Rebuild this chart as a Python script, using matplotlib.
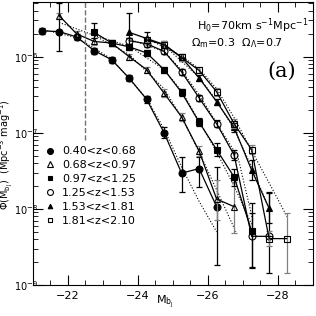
""" luminosity function plot """
import numpy as np
import matplotlib.pyplot as plt
from matplotlib.lines import Line2D

# 各红移区间的数据 (M_bJ, log10 Phi, 误差上/下 dex)
mag_1 = [-21.25, -21.75, -22.25, -22.75, -23.25, -23.75, -24.25, -24.75, -25.25, -25.75, -26.25]
logphi_1 = [-5.66, -5.67, -5.74, -5.92, -6.04, -6.28, -6.56, -7.00, -7.53, -7.47, -7.97]
up_1 = [0.04, 0.38, 0.04, 0.04, 0.04, 0.04, 0.05, 0.07, 0.21, 0.15, 0.52]
dn_1 = [0.04, 0.25, 0.04, 0.04, 0.04, 0.04, 0.05, 0.07, 0.25, 0.24, 0.77]

mag_2 = [-21.75, -22.25, -22.75, -23.25, -23.75, -24.25, -24.75, -25.25, -25.75, -26.25, -26.75]
logphi_2 = [-5.46, -5.70, -5.80, -5.82, -6.00, -6.17, -6.48, -6.79, -7.24, -7.87, -7.97]
up_2 = [0.04, 0.04, 0.04, 0.04, 0.04, 0.04, 0.05, 0.05, 0.07, 0.25, 0.33]
dn_2 = [0.04, 0.04, 0.04, 0.04, 0.04, 0.04, 0.05, 0.05, 0.07, 0.27, 0.35]

mag_3 = [-22.75, -23.25, -23.75, -24.25, -24.75, -25.25, -25.75, -26.25, -26.75, -27.25]
logphi_3 = [-5.68, -5.82, -5.87, -5.95, -6.17, -6.47, -6.86, -7.22, -7.58, -8.29]
up_3 = [0.12, 0.04, 0.04, 0.04, 0.04, 0.04, 0.05, 0.08, 0.10, 0.37]
dn_3 = [0.08, 0.04, 0.04, 0.04, 0.04, 0.04, 0.05, 0.08, 0.12, 0.49]

mag_4 = [-23.75, -24.25, -24.75, -25.25, -25.75, -26.25, -26.75, -27.25, -27.75]
logphi_4 = [-5.79, -5.83, -5.93, -6.20, -6.54, -6.88, -7.29, -8.36, -8.36]
up_4 = [0.04, 0.04, 0.04, 0.04, 0.04, 0.05, 0.07, 0.30, 0.58]
dn_4 = [0.04, 0.04, 0.04, 0.04, 0.04, 0.05, 0.07, 0.40, 0.48]

mag_5 = [-23.75, -24.25, -24.75, -25.25, -25.75, -26.25, -26.75, -27.25, -27.75]
logphi_5 = [-5.68, -5.76, -5.84, -6.01, -6.28, -6.59, -6.93, -7.49, -7.99]
up_5 = [0.26, 0.08, 0.04, 0.04, 0.04, 0.04, 0.06, 0.13, 0.20]
dn_5 = [0.08, 0.06, 0.04, 0.04, 0.04, 0.04, 0.06, 0.13, 0.20]

mag_6 = [-24.25, -24.75, -25.25, -25.75, -26.25, -26.75, -27.25, -27.75, -28.25]
logphi_6 = [-5.78, -5.84, -6.01, -6.18, -6.46, -6.88, -7.22, -8.39, -8.39]
up_6 = [0.04, 0.04, 0.04, 0.04, 0.05, 0.06, 0.06, 0.10, 0.34]
dn_6 = [0.04, 0.04, 0.04, 0.04, 0.05, 0.06, 0.06, 0.10, 0.45]

# 拟合曲线 (点线)
fit_mag_1 = [-21.25, -22.25, -23.25, -24.25, -24.75, -25.25, -25.75, -26.25]
fit_log_1 = [-5.64, -5.75, -6.03, -6.55, -6.95, -7.45, -7.90, -8.30]
fit_mag_2 = [-21.75, -22.75, -23.75, -24.75, -25.25, -25.75, -26.25, -26.80]
fit_log_2 = [-5.55, -5.72, -5.97, -6.42, -6.80, -7.25, -7.75, -8.30]
fit_mag_3 = [-22.75, -23.75, -24.75, -25.25, -25.75, -26.25, -26.75, -27.25]
fit_log_3 = [-5.72, -5.86, -6.17, -6.45, -6.85, -7.25, -7.70, -8.20]
fit_mag_4 = [-23.75, -24.75, -25.25, -25.75, -26.25, -26.86, -27.28]
fit_log_4 = [-5.77, -5.93, -6.18, -6.50, -6.87, -7.32, -8.14]
fit_mag_5 = [-23.75, -24.75, -25.75, -26.25, -26.75, -27.25, -27.75]
fit_log_5 = [-5.68, -5.85, -6.27, -6.58, -6.95, -7.45, -8.00]
fit_mag_6 = [-24.25, -25.25, -25.75, -26.25, -26.75, -27.28, -27.80, -28.26]
fit_log_6 = [-5.76, -5.99, -6.16, -6.42, -6.80, -7.26, -7.70, -8.10]

labels = ['0.40<z<0.68', '0.68<z<0.97', '0.97<z<1.25',
          '1.25<z<1.53', '1.53<z<1.81', '1.81<z<2.10']

plt.rcParams['font.family'] = ['DejaVu Sans']
plt.rcParams['font.size'] = 8

fig = plt.figure(figsize=(3.16, 3.16), dpi=100)
ax = fig.add_axes([0.104, 0.098, 0.886, 0.896])

series = [
    (mag_1, logphi_1, up_1, dn_1, 'o', 'k', 'k', 5.0, 'k'),
    (mag_2, logphi_2, up_2, dn_2, '^', 'none', 'k', 4.5, '0.5'),
    (mag_3, logphi_3, up_3, dn_3, 's', 'k', 'k', 3.8, 'k'),
    (mag_4, logphi_4, up_4, dn_4, 'o', 'none', 'k', 5.0, 'k'),
    (mag_5, logphi_5, up_5, dn_5, '^', 'k', 'k', 3.8, 'k'),
    (mag_6, logphi_6, up_6, dn_6, 's', 'none', 'k', 3.8, '0.5'),
]
fits = [(fit_mag_1, fit_log_1), (fit_mag_2, fit_log_2), (fit_mag_3, fit_log_3),
        (fit_mag_4, fit_log_4), (fit_mag_5, fit_log_5), (fit_mag_6, fit_log_6)]

# 点线拟合
for fm, fl in fits:
    ax.plot(fm, 10 ** np.array(fl), ':', color='k', lw=0.8)

# 数据点 + 误差棒
handles = []
for (m, lp, up, dn, mk, fc, ec, ms, errc), lab in zip(series, labels):
    lp = np.array(lp)
    y = 10 ** lp
    yerr = [y - 10 ** (lp - np.array(dn)), 10 ** (lp + np.array(up)) - y]
    ax.errorbar(m, y, yerr=yerr, fmt='none', ecolor=errc, elinewidth=0.9,
                capsize=2.5, capthick=0.9)
    ax.plot(m, y, '-', color='k', lw=0.9, marker=mk, mfc=fc, mec=ec,
            ms=ms, mew=0.8)
    # 图例只显示符号
    handles.append(Line2D([], [], linestyle='none', marker=mk, mfc=fc, mec=ec,
                          ms=ms * 0.85, mew=0.8, label=lab))

# 完整性极限 (虚线)
ax.plot([-22.5, -22.5], [8e-8, 6e-6], '--', color='0.45', lw=1.0)

ax.set_yscale('log')
ax.set_xlim(-21, -29)
ax.set_ylim(1e-9, 10 ** -5.28)
ax.set_xticks([-22, -24, -26, -28])
ax.set_xticks(np.arange(-21.5, -29, -0.5), minor=True)
ax.set_xticklabels(['\u221222', '\u221224', '\u221226', '\u221228'])
ax.tick_params(which='both', direction='in', top=True, right=True, labelsize=8)
ax.tick_params(which='major', length=7)
ax.tick_params(which='minor', length=3.5)
ax.tick_params(axis='x', pad=4)
ax.tick_params(axis='y', pad=-4, labelsize=7)

ax.set_xlabel(r'M$_{\mathrm{b_J}}$', fontsize=8)
ax.xaxis.set_label_coords(0.47, -0.03)
ax.set_ylabel(r'$\Phi$(M$_{\mathrm{b_J}}$)  (Mpc$^{-3}$ mag$^{-1}$)', fontsize=7)
ax.yaxis.set_label_coords(-0.064, 0.46)

ax.text(0.985, 0.915, r'H$_0$=70km s$^{-1}$Mpc$^{-1}$', transform=ax.transAxes,
        ha='right', va='center', fontsize=8)
ax.text(0.895, 0.855, r'$\Omega_\mathrm{m}$=0.3  $\Omega_\Lambda$=0.7', transform=ax.transAxes,
        ha='right', va='center', fontsize=8)
ax.text(0.94, 0.755, '(a)', transform=ax.transAxes, ha='right', va='center',
        fontsize=15, family='DejaVu Serif')

ax.legend(handles=handles, loc='upper left', bbox_to_anchor=(0.025, 0.505),
          frameon=False, fontsize=8, handlelength=1.0, handletextpad=0.6,
          labelspacing=0.35, borderaxespad=0.0)

fig.savefig('out.png', dpi=100)
